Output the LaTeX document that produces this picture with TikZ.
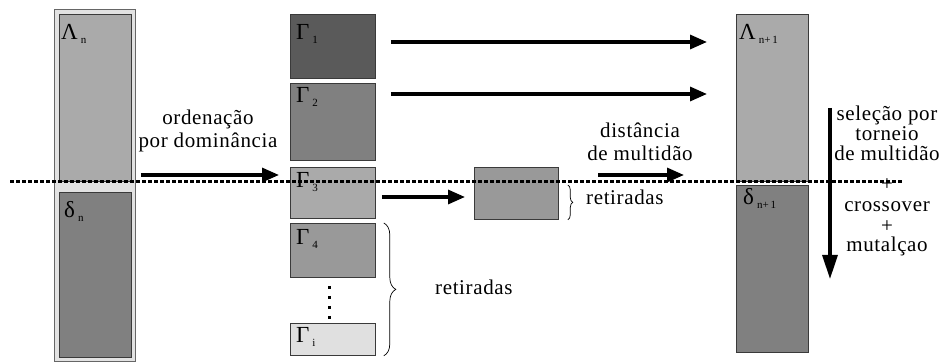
\documentclass[tikz,border=0pt]{standalone}
\usepackage{fontspec}
\setmainfont{Liberation Serif}
\newfontfamily\txtfont[LetterSpace=3]{Liberation Serif}
\usetikzlibrary{arrows.meta,decorations.pathreplacing,calc}
\definecolor{bordc}{HTML}{3A3A3A}
\definecolor{outerc}{HTML}{E2E2E2}
\definecolor{lightc}{HTML}{AAAAAA}
\definecolor{midc}{HTML}{808080}
\definecolor{darkc}{HTML}{5A5A5A}
\definecolor{grayc}{HTML}{999999}
\definecolor{palec}{HTML}{E0E0E0}
\newcommand{\lab}[2]{#1\kern3pt\raisebox{-4.5pt}{\fontsize{11}{11}\selectfont #2}}
\begin{document}
\begin{tikzpicture}[x=1pt,y=-1pt,
  box/.style={draw=bordc, line width=0.8pt, inner sep=0pt, anchor=north west},
  arr/.style={line width=3.2pt, -{Triangle[length=17pt,width=14pt]}},
  varr/.style={line width=3.2pt, -{Triangle[length=24pt,width=15pt]}},
  glbl/.style={inner sep=0pt, anchor=north west, font=\fontsize{23}{23}\selectfont},
  txt/.style={inner sep=0pt, anchor=base, font=\txtfont\fontsize{21}{21}\selectfont},
  brc/.style={decorate, decoration={brace, amplitude=#1}, line width=0.7pt},
  sepline/.style={line width=3pt, dash pattern=on 4pt off 2pt},
  vdots/.style={line width=3pt, dash pattern=on 3pt off 7pt}]
\useasboundingbox (0,0) rectangle (940,363);
% left column
\node[box, draw=black!60, fill=outerc, minimum width=81pt, minimum height=352pt] (outer) at (54,9) {};
\node[box, fill=lightc, minimum width=72pt, minimum height=167pt] (lam) at (59,14) {};
\node[box, fill=midc, minimum width=72pt, minimum height=165pt] (del) at (59,192) {};
\node[glbl] (lamL) at ($(lam.north west)+(2,10)$) {\lab{Λ}{n}};
\node[glbl] (delL) at ($(del.north west)+(5,9)$) {\lab{δ}{n}};
% gamma column
\node[box, fill=darkc, minimum width=85pt, minimum height=64pt] (g1) at (290,14) {};
\node[box, fill=midc, minimum width=85pt, minimum height=77pt] (g2) at (290,83) {};
\node[box, fill=lightc, minimum width=85pt, minimum height=51pt] (g3) at (290,167) {};
\node[box, fill=grayc, minimum width=85pt, minimum height=54pt] (g4) at (290,223) {};
\node[box, fill=palec, minimum width=85pt, minimum height=32pt] (gi) at (290,323) {};
\node[glbl] (g1L) at ($(g1.north west)+(6,10)$) {\lab{Γ}{1}};
\node[glbl] (g2L) at ($(g2.north west)+(6,4)$) {\lab{Γ}{2}};
\node[glbl] (g3L) at ($(g3.north west)+(6,5)$) {\lab{Γ}{3}};
\node[glbl] (g4L) at ($(g4.north west)+(6,6)$) {\lab{Γ}{4}};
\node[glbl] (giL) at ($(gi.north west)+(6,4)$) {\lab{Γ}{i}};
\draw[vdots] ($(g4.south)+(-3,8)$) coordinate (d1) -- ($(gi.north)+(-3,-4)$) coordinate (d2);
% removed box
\node[box, fill=grayc, minimum width=84pt, minimum height=52pt] (sm) at (474,167) {};
% right column
\node[box, fill=lightc, minimum width=72pt, minimum height=167pt] (lam1) at (736,14) {};
\node[box, fill=midc, minimum width=72pt, minimum height=167pt] (del1) at (736,185) {};
\node[glbl] (lam1L) at ($(lam1.north west)+(3,10)$) {\lab{Λ}{n+\,1}};
\node[glbl] (del1L) at ($(del1.north west)+(7,3)$) {\lab{δ}{n+\,1}};
% arrows
\draw[arr] ($(outer.east |- 0,175)+(5,0)$) -- ($(g3.west |- 0,175)+(-11,0)$);
\draw[arr] ($(g1.east |- 0,42)+(15,0)$) -- ($(lam1.west |- 0,42)+(-29,0)$);
\draw[arr] ($(g2.east |- 0,94)+(15,0)$) -- ($(lam1.west |- 0,94)+(-29,0)$);
\draw[arr] ($(g3.east |- 0,197)+(6,0)$) -- ($(sm.west |- 0,197)+(-9,0)$);
\coordinate (ds) at (598,175);
\coordinate (de) at (684,175);
\draw[arr] (ds) -- (de);
\coordinate (vs) at (830,108);
\coordinate (ve) at (830,279);
\draw[varr] (vs) -- (ve);
% braces
\draw[brc=5pt] ($(sm.north east)+(9,18)$) -- ($(sm.south east)+(9,0)$);
\draw[brc=12pt] ($(g4.north east)+(8,0)$) -- ($(gi.south east)+(8,0)$);
% texts
\node[txt] (t1) at (208,125) {ordenação};
\node[txt] (t2) at (208,148) {por dominância};
\node[txt] (t3) at (640,138) {distância};
\node[txt] (t4) at (640,161) {de multidão};
\node[txt, anchor=base west] (t5) at (586,205) {retiradas};
\node[txt, anchor=base west] (t6) at (435,295) {retiradas};
\node[txt] (r1) at (887,121) {seleção por};
\node[txt] (r2) at (887,141) {torneio};
\node[txt] (r3) at (887,161) {de multidão};
\node[txt] (r4) at (887,191) {+};
\node[txt] (r5) at (887,212) {crossover};
\node[txt] (r6) at (887,233) {+};
\node[txt] (r7) at (887,252) {mutalçao};
% separating dotted line
\coordinate (sa) at (10,182);
\coordinate (sb) at (903,182);
\draw[sepline] (sa) -- (sb);
\end{tikzpicture}
\end{document}
